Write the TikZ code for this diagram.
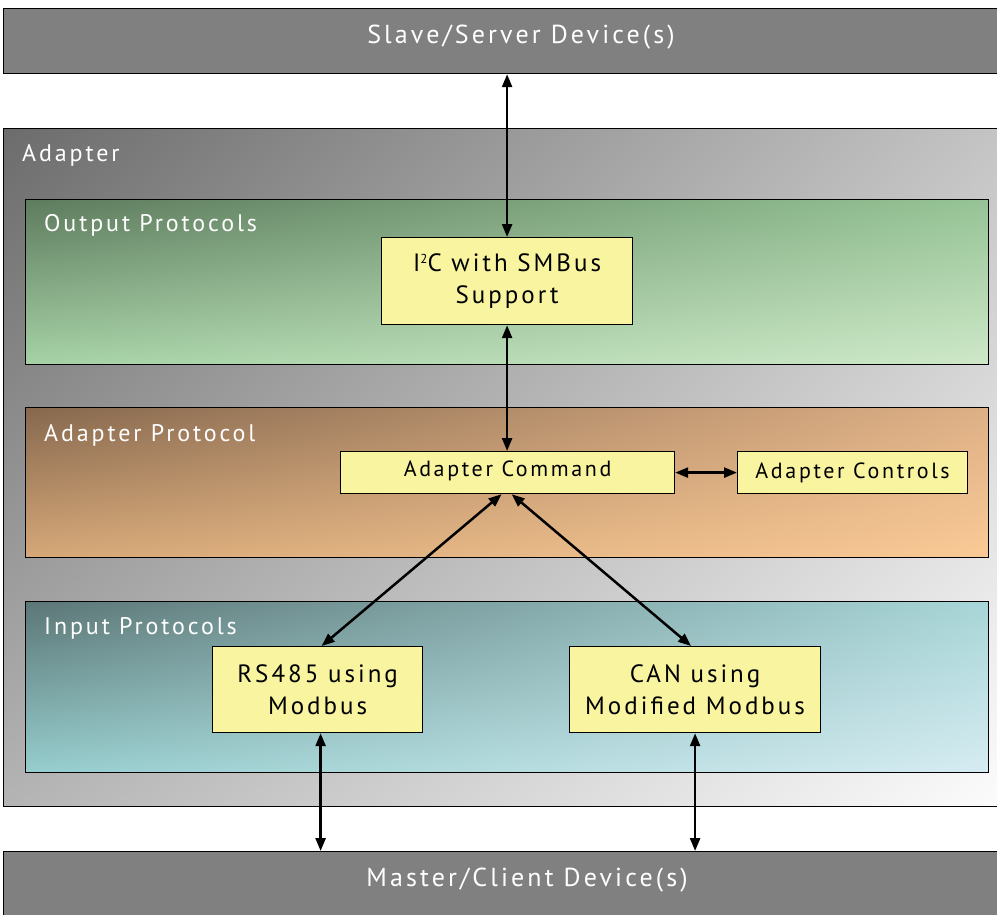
\documentclass[tikz,border=0pt]{standalone}
\usepackage{fontspec}
\setmainfont[LetterSpace=12]{PT Sans}
\usetikzlibrary{arrows.meta,shadings}
\definecolor{devgray}{HTML}{808080}
\definecolor{boxyellow}{HTML}{F8F4A0}
\tikzset{
  device/.style={draw=black, line width=1.2pt, fill=devgray, anchor=north west, inner sep=0pt},
  frame/.style={draw=black, line width=1.2pt, anchor=north west, inner sep=0pt},
  ybox/.style={draw=black, line width=1.2pt, fill=boxyellow, anchor=north west, inner sep=0pt},
  ytext/.style={align=center, inner sep=0pt, font=\fontsize{25}{32}\selectfont},
  wlabel/.style={text=white, anchor=west, inner sep=0pt, font=\fontsize{24}{28}\selectfont},
  dtext/.style={text=white, inner sep=0pt, font=\fontsize{26}{30}\selectfont},
  conn/.style={line width=2.5pt, {Triangle[length=13pt,width=10pt]}-{Triangle[length=13pt,width=10pt]}},
}
\begin{document}
\begin{tikzpicture}[x=1pt,y=-1pt]
\useasboundingbox (0,0) rectangle (997,914);
% devices
\node[device, minimum width=1040pt, minimum height=65pt] (slave) at (3,8) {};
\node[dtext] (slavet) at (521,37) {Slave/Server Device(s)};
\node[device, minimum width=1040pt, minimum height=80pt] (master) at (3,851) {};
\node[dtext] (mastert) at (527,880) {Master/Client Device(s)};
% adapter
\node[frame, minimum width=1040pt, minimum height=678pt,
  upper left={rgb,255:red,108;green,108;blue,108}, upper right={rgb,255:red,200;green,200;blue,200},
  lower left={rgb,255:red,180;green,180;blue,180}, lower right=white] (adapter) at (3,128) {};
\node[wlabel] (adaptert) at (22,155) {Adapter};
% output protocols
\node[frame, minimum width=963pt, minimum height=165pt,
  upper left={rgb,255:red,94;green,123;blue,94}, upper right={rgb,255:red,150;green,196;blue,150},
  lower left={rgb,255:red,166;green,210;blue,166}, lower right={rgb,255:red,206;green,232;blue,200}] (outp) at (25,199) {};
\node[wlabel] (outpt) at (44,225) {Output Protocols};
% adapter protocol
\node[frame, minimum width=963pt, minimum height=150pt,
  upper left={rgb,255:red,134;green,104;blue,78}, upper right={rgb,255:red,222;green,176;blue,134},
  lower left={rgb,255:red,214;green,168;blue,120}, lower right={rgb,255:red,250;green,202;blue,150}] (adpp) at (25,407) {};
\node[wlabel] (adppt) at (44,435) {Adapter Protocol};
% input protocols
\node[frame, minimum width=963pt, minimum height=171pt,
  upper left={rgb,255:red,92;green,118;blue,118}, upper right={rgb,255:red,168;green,214;blue,216},
  lower left={rgb,255:red,150;green,206;blue,206}, lower right={rgb,255:red,214;green,236;blue,242}] (inp) at (25,601) {};
\node[wlabel] (inpt) at (44,628) {Input Protocols};
% yellow boxes
\node[ybox, minimum width=251pt, minimum height=87pt] (i2c) at (381,237) {};
\node[ytext] (i2ct) at (i2c.center) {I\raisebox{0.33em}{\fontsize{13}{13}\selectfont 2}C with SMBus\\Support};
\node[ybox, minimum width=334pt, minimum height=42pt] (cmd) at (340,451) {};
\node[ytext, font=\fontsize{22}{26}\selectfont] (cmdt) at ([yshift=2pt]cmd.center) {Adapter Command};
\node[ybox, minimum width=230pt, minimum height=42pt] (ctl) at (737,451) {};
\node[ytext, font=\fontsize{22}{26}\selectfont] (ctlt) at (ctl.center) {Adapter Controls};
\node[ybox, minimum width=210pt, minimum height=86pt] (rs) at (212,646) {};
\node[ytext] (rst) at (rs.center) {RS485 using\\Modbus};
\node[ybox, minimum width=251pt, minimum height=86pt] (can) at (569,646) {};
\node[ytext] (cant) at (can.center) {CAN using\\Modified Modbus};
% connectors
\draw[conn] (i2c.north |- slave.south) -- (i2c.north);
\draw[conn] (i2c.south) -- (cmd.north -| i2c.south);
\draw[conn] (cmd.east) -- (ctl.west);
\draw[conn] ([xshift=-6pt]cmd.south) -- ([xshift=4pt]rs.north);
\draw[conn] ([xshift=4pt]cmd.south) -- ([xshift=-4pt]can.north);
\draw[conn] ([xshift=3pt]rs.south) -- ([xshift=3pt]rs.south |- master.north);
\draw[conn] (can.south) -- (can.south |- master.north);
\end{tikzpicture}
\end{document}
